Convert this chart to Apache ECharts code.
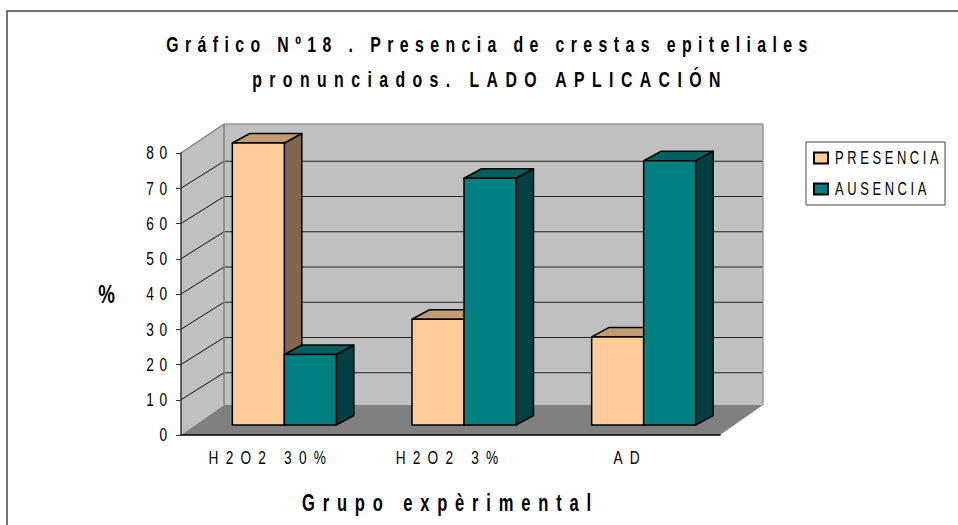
<!DOCTYPE html>
<html>
<head>
<meta charset="utf-8">
<style>
  html, body { margin: 0; padding: 0; background: #fff; }
  #chart { width: 958px; height: 525px; }
</style>
<script src="https://cdn.jsdelivr.net/npm/echarts@6/dist/echarts.min.js"></script>
</head>
<body>
<div id="chart"></div>
<script>
const categories = ['H2O2 30%', 'H2O2 3%', 'AD'];
const presencia = [80, 30, 25];
const ausencia = [20, 70, 75];
const yTicks = [0, 10, 20, 30, 40, 50, 60, 70, 80];

const fontFamily = '"Liberation Sans", Arial, sans-serif';

const chart = echarts.init(document.getElementById('chart'), null, { renderer: 'svg' });

// depth of the fake 3d box
const WALL_DX = 43, WALL_DY = 30, LINE_DY = 27;
// bars stand a bit in front of the back wall
const BAR_W = 52, BAR_DX = 17.5, BAR_DY = 9.5, BASE_DX = 13.5, BASE_DY = 10;

const renderWalls = (params, api) => {
    const g = params.coordSys;
    const x0 = g.x, x1 = g.x + g.width, yTop = g.y, yBot = g.y + g.height;
    const poly = (points, fill) => ({
        type: 'polygon',
        shape: { points },
        style: { fill }
    });
    const line = (a, b, stroke, lineWidth) => ({
        type: 'line',
        shape: { x1: a[0], y1: a[1], x2: b[0], y2: b[1] },
        style: { stroke, lineWidth }
    });
    const children = [
        poly([[x0, yBot], [x0, yTop], [x0 + WALL_DX, yTop - WALL_DY + 1], [x0 + WALL_DX, yBot - WALL_DY]], '#c0c0c0'),
        poly([[x0 + WALL_DX, yTop - WALL_DY + 1], [x1 + WALL_DX, yTop - WALL_DY + 1], [x1 + WALL_DX, yBot - WALL_DY], [x0 + WALL_DX, yBot - WALL_DY]], '#c0c0c0'),
        poly([[x0, yBot], [x1, yBot], [x1 + WALL_DX, yBot - WALL_DY], [x0 + WALL_DX, yBot - WALL_DY]], '#808080')
    ];
    yTicks.slice(1, -1).forEach((tick) => {
        const y = api.coord([0, tick])[1];
        children.push(line([x0, y], [x0 + WALL_DX, y - LINE_DY], '#111', 1));
        children.push(line([x0 + WALL_DX, y - LINE_DY], [x1 + WALL_DX, y - LINE_DY], '#222', 1));
    });
    children.push(line([x0, yTop], [x0 + WALL_DX, yTop - WALL_DY + 1], '#808080', 1.5));
    children.push(line([x0 + WALL_DX, yTop - WALL_DY + 1], [x0 + WALL_DX, yBot - WALL_DY], '#808080', 1.5));
    children.push(line([x0 + WALL_DX, yTop - WALL_DY + 1], [x1 + WALL_DX, yTop - WALL_DY + 1], '#999', 1.5));
    children.push(line([x1 + WALL_DX, yTop - WALL_DY + 1], [x1 + WALL_DX, yBot - WALL_DY], '#999', 1.5));
    return { type: 'group', silent: true, children };
};

// side: -1 bar left of the group centre, 0 right of it
const makeBarRender = (side, front, top, right) => (params, api) => {
    const idx = api.value(0);
    const base = api.coord([idx, 0]);
    const head = api.coord([idx, api.value(1)]);
    const x0 = base[0] + BASE_DX + side * BAR_W;
    const x1 = x0 + BAR_W;
    const yBot = base[1] - BASE_DY;
    const yTop = head[1] - BASE_DY;
    const stroke = { stroke: '#000', lineWidth: 1.5, lineJoin: 'round' };
    return {
        type: 'group',
        children: [
            { type: 'polygon', shape: { points: [[x1, yBot], [x1, yTop], [x1 + BAR_DX, yTop - BAR_DY], [x1 + BAR_DX, yBot - BAR_DY]] }, style: { fill: right, ...stroke } },
            { type: 'polygon', shape: { points: [[x0, yTop], [x1, yTop], [x1 + BAR_DX, yTop - BAR_DY], [x0 + BAR_DX, yTop - BAR_DY]] }, style: { fill: top, ...stroke } },
            { type: 'polygon', shape: { points: [[x0, yBot], [x0, yTop], [x1, yTop], [x1, yBot]] }, style: { fill: front, ...stroke } }
        ]
    };
};

const option = {
    backgroundColor: '#fff',
    animation: false,
    title: {
        text: 'Gráfico Nº18 . Presencia de crestas epiteliales\npronunciados. LADO APLICACIÓN',
        left: 485,
        top: 22,
        textAlign: 'center',
        textStyle: { fontFamily, fontSize: 22, fontWeight: 'bold', color: '#000', lineHeight: 35 }
    },
    legend: {
        orient: 'vertical',
        icon: 'rect',
        left: 806,
        top: 142,
        padding: [7, 6, 7, 7],
        itemWidth: 14,
        itemHeight: 11,
        itemGap: 13,
        backgroundColor: '#fff',
        borderColor: '#444',
        borderWidth: 1,
        borderRadius: 0,
        selectedMode: false,
        data: ['PRESENCIA', 'AUSENCIA'],
        textStyle: { fontFamily, fontSize: 18, color: '#000', width: 113, padding: [0, 0, 0, 2] }
    },
    grid: { left: 181, top: 153, width: 539, height: 282 },
    xAxis: {
        type: 'category',
        data: categories,
        z: 10,
        name: 'Grupo expèrimental',
        nameLocation: 'middle',
        nameGap: 56,
        nameTextStyle: { fontFamily, fontSize: 23, fontWeight: 'bold', color: '#000' },
        axisLine: { lineStyle: { color: '#000', width: 1.5 } },
        axisTick: { length: 5, lineStyle: { color: '#333' } },
        axisLabel: { fontFamily, fontSize: 19, color: '#000', margin: 13 },
        splitLine: { show: false }
    },
    yAxis: {
        type: 'value',
        min: 0,
        max: 80,
        interval: 10,
        z: 10,
        name: '%',
        nameLocation: 'middle',
        nameRotate: 0,
        nameGap: 66,
        nameTextStyle: { fontFamily, fontSize: 26, fontWeight: 'bold', color: '#000' },
        axisLine: { show: true, lineStyle: { color: '#333', width: 1.5 } },
        axisTick: { show: true, length: 5, lineStyle: { color: '#333' } },
        axisLabel: { fontFamily, fontSize: 19, color: '#000', margin: 8 },
        splitLine: { show: false }
    },
    series: [
        {
            type: 'custom',
            name: 'walls',
            z: 1,
            silent: true,
            renderItem: renderWalls,
            data: [[0, 0]]
        },
        {
            type: 'custom',
            name: 'PRESENCIA',
            z: 2,
            renderItem: makeBarRender(-1, '#ffcc99', '#c19c73', '#7f664d'),
            itemStyle: { color: '#ffcc99', borderColor: '#000', borderWidth: 1.5 },
            encode: { x: 0, y: 1 },
            data: presencia.map((v, i) => [i, v])
        },
        {
            type: 'custom',
            name: 'AUSENCIA',
            z: 3,
            renderItem: makeBarRender(0, '#008080', '#006060', '#004040'),
            itemStyle: { color: '#008080', borderColor: '#000', borderWidth: 1.5 },
            encode: { x: 0, y: 1 },
            data: ausencia.map((v, i) => [i, v])
        }
    ],
    graphic: [
        {
            type: 'polyline',
            z: -1,
            silent: true,
            shape: { points: [[7, 530], [7, 11], [958, 11]] },
            style: { fill: 'none', stroke: '#444', lineWidth: 1.5 }
        }
    ]
};

// echarts has no letter spacing or condensed text, the svg text gets them afterwards
const GLYPH_SCALE = 0.72;
const spacingFor = (text, bold) => {
    if (text === '%') return 0;
    if (text.startsWith('Grupo')) return 10.85;
    if (text.startsWith('pronunciados')) return 10.3;
    if (bold) return 8.9;
    if (text === 'PRESENCIA' || text === 'AUSENCIA') return 5;
    if (categories.includes(text)) return 10;
    return 8;
};

let narrowed = false;
chart.on('finished', () => {
    if (narrowed) return;
    narrowed = true;
    document.querySelectorAll('#chart text').forEach((t) => {
        const text = t.textContent.trim();
        const bold = (t.getAttribute('style') || '').includes('bold');
        t.style.letterSpacing = spacingFor(text, bold) + 'px';
        const x = parseFloat(t.getAttribute('x')) || 0;
        const prev = t.getAttribute('transform') || '';
        t.setAttribute('transform', `${prev} translate(${x} 0) scale(${GLYPH_SCALE} 1) translate(${-x} 0)`);
    });
});

chart.setOption(option);
window.addEventListener('resize', () => chart.resize());
</script>
</body>
</html>
